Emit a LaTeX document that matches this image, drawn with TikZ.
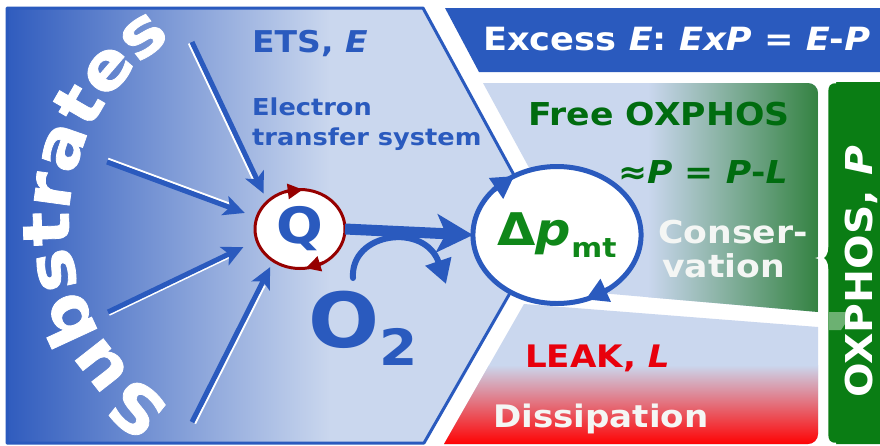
\documentclass[tikz,border=0pt]{standalone}
\usepackage{fontspec}
\setmainfont{DejaVu Sans}[FakeStretch=1.1]
\newfontfamily\subfam{DejaVu Sans}[FakeStretch=1.1,FakeBold=1.2]
\usetikzlibrary{arrows.meta,decorations.text,shapes.geometric}
\definecolor{blueA}{RGB}{42,90,190}
\definecolor{lb}{RGB}{202,215,238}
\definecolor{etsL}{RGB}{48,92,190}
\definecolor{grD}{RGB}{52,130,66}
\definecolor{grB}{RGB}{10,125,20}
\definecolor{grT}{RGB}{0,108,15}
\definecolor{grP}{RGB}{15,135,25}
\definecolor{redL}{RGB}{255,0,0}
\definecolor{redT}{RGB}{232,0,12}
\definecolor{dred}{RGB}{150,0,0}
\definecolor{offw}{RGB}{244,246,244}
\newcommand{\myfs}[1]{\fontsize{#1}{#1}\selectfont}
\newcommand{\subfont}{\subfam\fontsize{65}{65}\selectfont\bfseries}
\begin{document}
\begin{tikzpicture}[x=1pt,y=-1pt,
  lbl/.style={inner sep=0pt, anchor=base west},
  subarrow/.style={blueA, line width=5pt, -{Stealth[length=21pt,width=20pt,inset=5pt]}},
  hilite/.style={white, line width=2pt, shorten >=26pt},
  ringtip/.style={line width=3pt, -{Triangle[length=15pt,width=15pt]}},
  dptip/.style={blueA, line width=5pt, -{Triangle[length=22pt,width=24pt]}}]
\useasboundingbox (0,0) rectangle (880,445);
\fill[white] (0,0) rectangle (880,445);

% ETS region
\begin{scope}
  \clip (7,8) -- (423,8) -- (545,232) -- (424,443) -- (7,443) -- cycle;
  \fill[lb] (0,0) rectangle (560,445);
  \shade[left color=etsL, right color=lb] (7,0) rectangle (330,445);
\end{scope}
\draw[blueA, line width=3pt, line join=round] (7,8) -- (423,8) -- (545,232) -- (424,443) -- (7,443) -- cycle;

% Excess band
\fill[blueA] (445,8) -- (880,8) -- (880,72) -- (479,72) -- cycle;

% Free OXPHOS region
\begin{scope}
  \clip (483,83) -- (808,83) arc[start angle=270, end angle=360, radius=10] -- (818,312) -- (600,293) -- (564,232) -- cycle;
  \fill[lb] (470,70) rectangle (830,320);
  \shade[left color=lb, right color=grD] (648,70) rectangle (818,320);
\end{scope}

% LEAK region
\begin{scope}
  \clip (444,444) -- (524,304) -- (818,327) -- (818,434) arc[start angle=0, end angle=90, radius=10] -- cycle;
  \fill[lb] (430,290) rectangle (830,445);
  \shade[top color=lb, bottom color=redL] (430,365) rectangle (830,445);
\end{scope}

% OXPHOS bar with brace
\fill[grB] (836,82) .. controls (829,82) and (827,85) .. (827,92) -- (827,247)
  .. controls (827,254) and (824,258) .. (820,258) .. controls (824,258) and (827,262) .. (827,269)
  -- (827,434) .. controls (827,441) and (829,444) .. (836,444) -- (880,444) -- (880,82) -- cycle;
\draw[white, line width=2.5pt] (836,82) .. controls (829,82) and (827,85) .. (827,92) -- (827,247)
  .. controls (827,254) and (824,258) .. (820,258) .. controls (824,258) and (827,262) .. (827,269)
  -- (827,434) .. controls (827,441) and (829,444) .. (836,444);
\fill[white, opacity=0.4] (829,312) -- (853,312) -- (841,330) -- (829,330) -- cycle;

% Substrates along arc
\path[decorate, decoration={text along path, text align=center, text color=white,
  text={|\subfont|Substrates}}]
  (305,222) ++(118:236 and 222) arc[start angle=118, end angle=242, x radius=236, y radius=222];

% nodes
\node[ellipse, draw=dred, line width=3pt, fill=white, minimum width=90pt, minimum height=79pt,
  inner sep=0pt, outer sep=0pt, text=blueA, font=\myfs{50}\bfseries] (Q) at (300,229) {Q};
\node[ellipse, draw=blueA, line width=5pt, fill=white, minimum width=155pt, minimum height=137pt,
  inner sep=0pt, outer sep=0pt, text=grP, font=\myfs{45}\bfseries] (dp) at (557,235)
  {Δ\textit{p}\raisebox{-12pt}{\myfs{27}mt}};

% substrate arrows
\coordinate (s1) at (192,42);
\coordinate (s2) at (107,162);
\coordinate (s3) at (108,312);
\coordinate (s4) at (192,422);
\draw[hilite] ([shift={(-3.2,1.5)}]s1) -- ([shift={(-3.2,1.5)}]Q.140);
\draw[hilite] ([shift={(1.2,-3.3)}]s2) -- ([shift={(1.2,-3.3)}]Q.165);
\draw[hilite] ([shift={(1.3,2.8)}]s3) -- ([shift={(1.3,2.8)}]Q.195);
\draw[hilite] ([shift={(3.1,1.6)}]s4) -- ([shift={(3.1,1.6)}]Q.230);
\draw[subarrow, shorten >=9pt] (s1) -- (Q.140);
\draw[subarrow, shorten >=13pt] (s2) -- (Q.165);
\draw[subarrow, shorten >=15pt] (s3) -- (Q.195);
\draw[subarrow, shorten >=7pt] (s4) -- (Q.230);

% Q rotation tips
\draw[dred, ringtip] (Q.112) -- (Q.86);
\draw[dred, ringtip] (Q.-55) -- (Q.-82);

% Q -> dp
\draw[blueA, line width=11pt, -{Stealth[length=36pt,width=38pt,inset=9pt]}] (Q.east) -- (dp.west);

% dp rotation tips
\draw[dptip] (dp.145) -- (dp.126);
\draw[dptip] (dp.-46) -- (dp.-66);

% O2 arrow
\coordinate (o2s) at (353,278);
\coordinate (o2e) at (446,284);
\draw[blueA, line width=6pt, line cap=round, -{Triangle[length=24pt,width=26pt]}]
  (o2s) .. controls (350,232) and (425,222) .. (o2e);
\node[lbl, text=blueA, font=\myfs{76}\bfseries] (o2) at (308,347) {O\raisebox{-18pt}{\myfs{50}2}};

% texts
\node[lbl, text=blueA, font=\myfs{30}\bfseries] (ets) at (252,52) {ETS, \textit{E}};
\node[lbl, text=blueA, font=\myfs{23.3}\bfseries] (etsa) at (252,115) {Electron};
\node[lbl, text=blueA, font=\myfs{23.3}\bfseries] (etsb) at (252,145) {transfer system};
\node[lbl, text=white, font=\myfs{32}\bfseries] (exc) at (483,50) {Excess \textit{E}: \textit{ExP} = \textit{E}-\textit{P}};
\node[lbl, text=grT, font=\myfs{31.5}\bfseries] (free) at (528,125) {Free OXPHOS};
\node[lbl, text=grT, font=\myfs{31.5}\bfseries] (fp) at (618,183) {≈\textit{P} = \textit{P}-\textit{L}};
\node[lbl, text=offw, font=\myfs{31.5}\bfseries] (cons1) at (658,243) {Conser-};
\node[lbl, text=offw, font=\myfs{31.5}\bfseries] (cons2) at (662,277) {vation};
\node[lbl, text=redT, font=\myfs{31}\bfseries] (leak) at (525,367) {LEAK, \textit{L}};
\node[lbl, text=offw, font=\myfs{31}\bfseries] (diss) at (493,427) {Dissipation};
\node[inner sep=0pt, anchor=base, rotate=90, text=white, font=\myfs{37}\bfseries] (ox) at (872,272) {OXPHOS, \textit{P}};
\end{tikzpicture}
\end{document}
